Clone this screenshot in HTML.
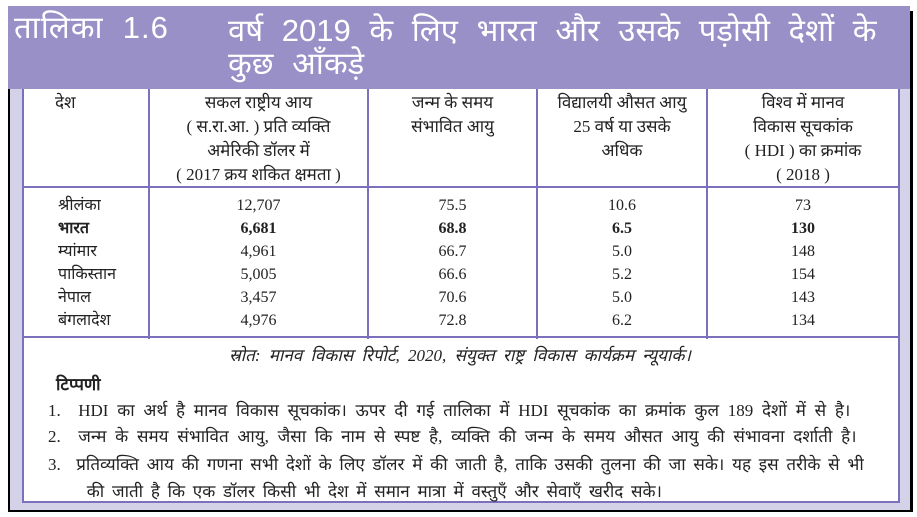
<!DOCTYPE html>
<html><head><meta charset="utf-8"><style>
body{margin:0;width:917px;height:517px;background:#fff;position:relative;overflow:hidden;font-family:"Liberation Serif","Noto Sans CJK SC",serif;color:#222}
.a{position:absolute}
.c{position:absolute;text-align:center;font-size:17px;line-height:24px}
.r{position:absolute;font-size:16px;line-height:23px}
.b{font-weight:bold}
</style></head><body>
<div class="a" style="left:8px;top:11px;width:905px;height:501px;background:#000"></div>
<div class="a" style="left:10px;top:11px;width:900px;height:499px;background:#d4d2e8"></div>
<div class="a" style="left:8px;top:6px;width:902px;height:83px;background:#9990c8"></div>
<div class="a" style="left:14px;top:12px;color:#fff;font-size:31px;line-height:32px;letter-spacing:1px;font-family:'Liberation Sans','Noto Sans CJK SC',sans-serif">तालिका&nbsp; 1.6</div>
<div class="a" style="left:228px;top:14px;color:#fff;font-size:31px;line-height:33px;word-spacing:10px;font-family:'Liberation Sans','Noto Sans CJK SC',sans-serif;width:680px">वर्ष 2019 के लिए भारत और उसके पड़ोसी देशों के<br>कुछ आँकड़े</div>
<div class="a" style="left:22px;top:89px;width:874px;height:412px;background:#fff;border:2px solid #7b70bb;border-top:none"></div>
<div class="a" style="left:22px;top:186px;width:876px;height:2px;background:#7b70bb"></div>
<div class="a" style="left:22px;top:336px;width:876px;height:2px;background:#7b70bb"></div>
<div class="a" style="left:148px;top:89px;width:2px;height:250px;background:#7b70bb"></div>
<div class="a" style="left:367px;top:89px;width:2px;height:250px;background:#7b70bb"></div>
<div class="a" style="left:536px;top:89px;width:2px;height:250px;background:#7b70bb"></div>
<div class="a" style="left:706px;top:89px;width:2px;height:250px;background:#7b70bb"></div>
<div class="c" style="left:55px;top:91px">देश</div>
<div class="c" style="left:150px;top:91px;width:217px">सकल राष्ट्रीय आय<br>( स.रा.आ. ) प्रति व्यक्ति<br>अमेरिकी डॉलर में<br>( 2017 क्रय शकित क्षमता )</div>
<div class="c" style="left:369px;top:91px;width:167px">जन्म के समय<br>संभावित आयु</div>
<div class="c" style="left:538px;top:91px;width:168px">विद्यालयी औसत आयु<br>25 वर्ष या उसके<br>अधिक</div>
<div class="c" style="left:708px;top:91px;width:190px">विश्व में मानव<br>विकास सूचकांक<br>( HDI ) का क्रमांक<br>( 2018 )</div>
<div class="r" style="left:58px;top:194px">श्रीलंका<br><b>भारत</b><br>म्यांमार<br>पाकिस्तान<br>नेपाल<br>बंगलादेश</div>
<div class="r" style="left:150px;top:194px;width:217px;text-align:center">12,707<br><b>6,681</b><br>4,961<br>5,005<br>3,457<br>4,976</div>
<div class="r" style="left:369px;top:194px;width:167px;text-align:center">75.5<br><b>68.8</b><br>66.7<br>66.6<br>70.6<br>72.8</div>
<div class="r" style="left:538px;top:194px;width:168px;text-align:center">10.6<br><b>6.5</b><br>5.0<br>5.2<br>5.0<br>6.2</div>
<div class="r" style="left:708px;top:194px;width:190px;text-align:center">73<br><b>130</b><br>148<br>154<br>143<br>134</div>
<div class="a" style="left:22px;top:343px;width:876px;text-align:center;font-size:17px;word-spacing:4px;font-style:italic">स्रोत: मानव विकास रिपोर्ट, 2020, संयुक्त राष्ट्र विकास कार्यक्रम न्यूयार्क।</div>
<div class="a b" style="left:56px;top:372px;font-size:17px">टिप्पणी</div>
<div class="a" style="left:48px;top:398px;font-size:17px;line-height:26px;word-spacing:4.5px;width:860px;white-space:nowrap">1.&nbsp; HDI का अर्थ है मानव विकास सूचकांक। ऊपर दी गई तालिका में HDI सूचकांक का क्रमांक कुल 189 देशों में से है।<br>2.&nbsp; जन्म के समय संभावित आयु, जैसा कि नाम से स्पष्ट है, व्यक्ति की जन्म के समय औसत आयु की संभावना दर्शाती है।</div>
<div class="a" style="left:48px;top:451px;font-size:17px;line-height:27px;word-spacing:3.5px;width:860px;white-space:nowrap">3.&nbsp; प्रतिव्यक्ति आय की गणना सभी देशों के लिए डॉलर में की जाती है, ताकि उसकी तुलना की जा सके। यह इस तरीके से भी<br>&nbsp;&nbsp;&nbsp;&nbsp;&nbsp;की जाती है कि एक डॉलर किसी भी देश में समान मात्रा में वस्तुएँ और सेवाएँ खरीद सके।</div>
</body></html>
